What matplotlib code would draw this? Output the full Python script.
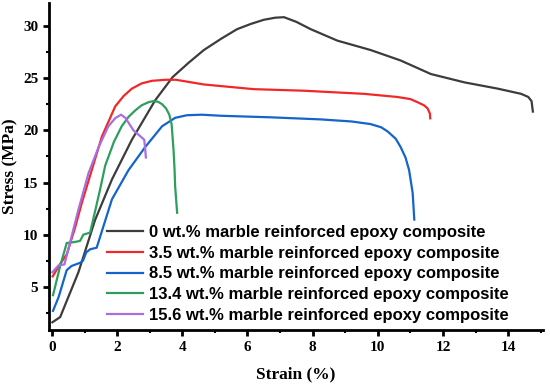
import matplotlib
matplotlib.use("Agg")
import matplotlib.pyplot as plt
from matplotlib.ticker import MultipleLocator

labels = [
    "0 wt.% marble reinforced epoxy composite",
    "3.5 wt.% marble reinforced epoxy composite",
    "8.5 wt.% marble reinforced epoxy composite",
    "13.4 wt.% marble reinforced epoxy composite",
    "15.6 wt.% marble reinforced epoxy composite",
]
colors = ["#3c3c3c", "#f02828", "#1464cc", "#2e9e5e", "#a86ee0"]

x0 = [0.01, 0.25, 0.81, 1.32, 1.84, 2.45, 3.17, 3.70, 4.20, 4.66, 5.20, 5.68, 6.10, 6.50, 6.85, 7.12,
      7.50, 7.94, 8.76, 9.78, 10.7, 11.63, 12.66, 13.68, 14.40, 14.62, 14.72, 14.76]
y0 = [1.6, 2.1, 6.4, 11.4, 15.3, 19.1, 22.9, 25.1, 26.5, 27.7, 28.8, 29.7, 30.2, 30.6, 30.8, 30.85,
      30.4, 29.7, 28.6, 27.7, 26.7, 25.4, 24.6, 24.0, 23.5, 23.2, 22.8, 21.8]

x1 = [0.02, 0.25, 0.45, 0.70, 0.91, 1.22, 1.53, 1.94, 2.20, 2.45, 2.75, 3.07, 3.50, 3.80, 4.66,
      6.19, 7.73, 9.58, 10.6, 11.0, 11.22, 11.42, 11.53, 11.60, 11.61]
y1 = [6.0, 7.2, 8.1, 10.6, 13.0, 16.2, 19.4, 22.3, 23.3, 24.0, 24.5, 24.75, 24.85, 24.85, 24.4,
      23.95, 23.8, 23.5, 23.2, 23.0, 22.7, 22.4, 22.1, 21.6, 21.15]

x2 = [0.03, 0.20, 0.45, 0.60, 0.86, 0.95, 1.05, 1.17, 1.37, 1.84, 2.35, 2.86, 3.38, 3.78, 4.14,
      4.6, 5.17, 6.71, 8.25, 9.2, 9.78, 10.1, 10.3, 10.55, 10.7, 10.85, 10.96, 11.07, 11.12]
y2 = [2.7, 4.0, 6.6, 7.0, 7.3, 7.5, 8.3, 8.6, 8.75, 13.4, 16.2, 18.4, 20.4, 21.2, 21.45,
      21.5, 21.4, 21.25, 21.05, 20.85, 20.6, 20.3, 19.9, 19.2, 18.4, 17.4, 16.2, 14.0, 11.45]

x3 = [0.03, 0.25, 0.45, 0.70, 0.86, 0.96, 1.17, 1.48, 1.63, 1.90, 2.14, 2.35, 2.55, 2.75, 2.96,
      3.10, 3.25, 3.38, 3.50, 3.60, 3.67, 3.73, 3.76, 3.78, 3.84]
y3 = [4.2, 7.0, 9.2, 9.3, 9.4, 10.0, 10.2, 14.4, 16.6, 18.9, 20.4, 21.3, 21.9, 22.4, 22.7,
      22.8, 22.75, 22.5, 22.1, 21.5, 20.6, 18.1, 16.3, 14.6, 12.1]

x4 = [0.01, 0.20, 0.38, 0.50, 0.81, 1.12, 1.43, 1.73, 1.95, 2.12, 2.25, 2.50, 2.76, 2.83, 2.86, 2.88]
y4 = [6.4, 7.05, 7.15, 8.6, 12.4, 15.9, 18.4, 20.4, 21.2, 21.5, 21.2, 20.0, 19.3, 19.1, 18.2, 17.4]

xs = [x0, x1, x2, x3, x4]
ys = [y0, y1, y2, y3, y4]

xticks = [0, 2, 4, 6, 8, 10, 12, 14]
yticks = [5, 10, 15, 20, 25, 30]

fig = plt.figure(figsize=(5.5, 3.87), dpi=100)
ax = fig.add_axes([0.0887, 0.147, 0.8985, 0.845])

for x, y, c, lab in zip(xs, ys, colors, labels):
    ax.plot(x, y, color=c, lw=1.6, label=lab, solid_joinstyle="round")

ax.set_xlim(-0.1, 15.07)
ax.set_ylim(0.85, 32.2)
ax.set_xticks(xticks)
ax.set_yticks(yticks)
ax.xaxis.set_minor_locator(MultipleLocator(1))
ax.yaxis.set_minor_locator(MultipleLocator(2.5))

for s in ["top", "right"]:
    ax.spines[s].set_visible(False)
for s in ["left", "bottom"]:
    ax.spines[s].set_linewidth(2.0)

ax.tick_params(which="major", direction="out", length=4, width=2.0)
ax.tick_params(which="minor", direction="out", length=2.5, width=1.5)

for lbl in ax.get_xticklabels() + ax.get_yticklabels():
    lbl.set_fontfamily("Liberation Serif")
    lbl.set_fontweight("bold")
    lbl.set_fontsize(11)

ax.set_xlabel("Strain (%)", fontfamily="Liberation Serif", fontweight="bold", fontsize=12.5, labelpad=9)
ax.set_ylabel("Stress (MPa)", fontfamily="Liberation Serif", fontweight="bold", fontsize=12.5, labelpad=3)

leg = ax.legend(loc="center left", bbox_to_anchor=(0.1945, 0.292), bbox_transform=fig.transFigure,
                frameon=False, borderpad=0, borderaxespad=0, handlelength=2.16, handletextpad=0.36,
                labelspacing=0.35, prop={"family": "Liberation Sans", "weight": "bold", "size": 12})

fig.savefig("out.png", dpi=100)
